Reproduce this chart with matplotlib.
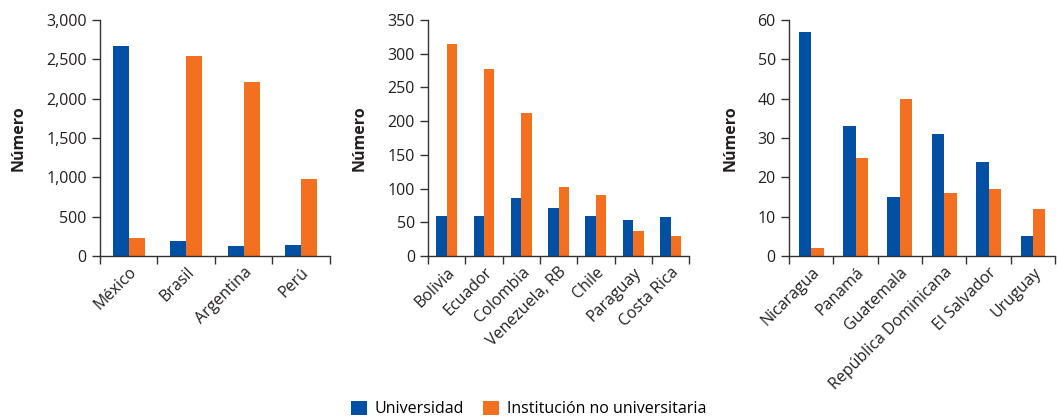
import matplotlib.pyplot as plt
import numpy as np

plt.rcParams['font.family'] = ['Open Sans', 'DejaVu Sans']

azul = '#0250a3'
naranja = '#f37021'

paises1 = ['México', 'Brasil', 'Argentina', 'Perú']
univ1 = [2670, 195, 127, 140]
inst1 = [225, 2540, 2210, 975]

paises2 = ['Bolivia', 'Ecuador', 'Colombia', 'Venezuela, RB', 'Chile', 'Paraguay', 'Costa Rica']
univ2 = [59, 59, 86, 71, 59, 53, 58]
inst2 = [314, 277, 212, 102, 91, 37, 29]

paises3 = ['Nicaragua', 'Panamá', 'Guatemala', 'República Dominicana', 'El Salvador', 'Uruguay']
univ3 = [57, 33, 15, 31, 24, 5]
inst3 = [2, 25, 40, 16, 17, 12]

paneles = [
    (paises1, univ1, inst1, 3000, 500, [0.0946, 0.386, 0.2176, 0.566]),
    (paises2, univ2, inst2, 350, 50, [0.405, 0.386, 0.247, 0.566]),
    (paises3, univ3, inst3, 60, 10, [0.7465, 0.386, 0.2517, 0.566]),
]

fig = plt.figure(figsize=(10.57, 4.17), dpi=100)
w = 0.28

for paises, univ, inst, ymax, paso, pos in paneles:
    ax = fig.add_axes(pos)
    x = np.arange(len(paises))
    b1 = ax.bar(x - w / 2, univ, w, color=azul, label='Universidad')
    b2 = ax.bar(x + w / 2, inst, w, color=naranja, label='Institución no universitaria')
    ax.set_xlim(-0.5, len(paises) - 0.5)
    ax.set_ylim(0, ymax)
    ax.set_yticks(np.arange(0, ymax + 1, paso))
    ax.set_yticklabels([f'{v:,}' for v in np.arange(0, ymax + 1, paso)])
    ax.set_xticks(x)
    ax.set_xticklabels(paises, rotation=45, ha='right', rotation_mode='anchor')
    ax.set_xticks(np.arange(-0.5, len(paises)), minor=True)
    ax.tick_params(axis='x', which='major', length=0, pad=6, labelsize=11.5, colors='#231f20')
    ax.tick_params(axis='x', which='minor', length=6, width=1, color='#333333')
    ax.tick_params(axis='y', length=6, width=1, labelsize=11.5, colors='#231f20')
    ax.tick_params(axis='y', color='#333333')
    for s in ['top', 'right']:
        ax.spines[s].set_visible(False)
    for s in ['left', 'bottom']:
        ax.spines[s].set_color('#333333')
        ax.spines[s].set_linewidth(1)
    ax.set_ylabel('Número', fontsize=11.5, fontweight='bold', color='#231f20', labelpad=14)

fig.legend([b1, b2], ['Universidad', 'Institución no universitaria'],
           loc='lower center', bbox_to_anchor=(0.5, -0.035), ncol=2, frameon=False,
           fontsize=11.5, handlelength=1.0, handleheight=1.0, handletextpad=0.5,
           columnspacing=1.2)

fig.savefig('out.png', dpi=100)
